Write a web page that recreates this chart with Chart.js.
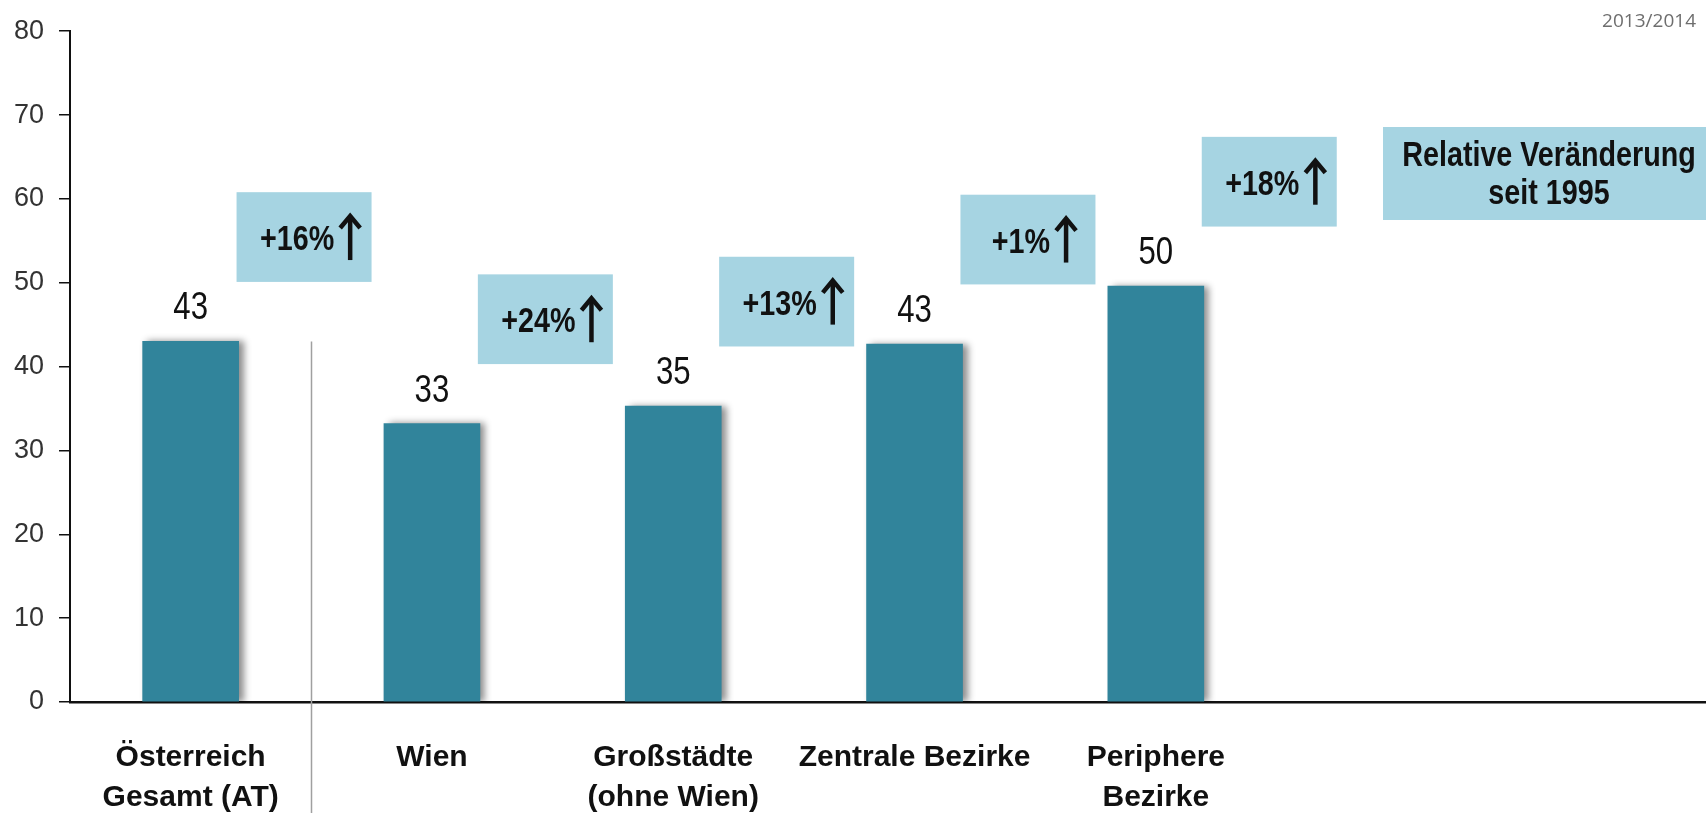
<!DOCTYPE html>
<html><head><meta charset="utf-8">
<script src="https://cdn.jsdelivr.net/npm/chart.js@4.4.1/dist/chart.umd.min.js"></script>
<style>html,body{margin:0;padding:0;background:#fff;overflow:hidden}canvas{display:block}</style>
</head><body>
<canvas id="c" width="1706" height="813"></canvas>
<script>
const categories = [['Österreich','Gesamt (AT)'], ['Wien'], ['Großstädte','(ohne Wien)'], ['Zentrale Bezirke'], ['Periphere','Bezirke']];
const values = [43.0, 33.2, 35.3, 42.7, 49.6];
const valueLabels = ['43', '33', '35', '43', '50'];
const changeLabels = ['+16%', '+24%', '+13%', '+1%', '+18%'];
const yTicks = [0, 10, 20, 30, 40, 50, 60, 70, 80];
const legendLines = ['Relative Veränderung', 'seit 1995'];
const sourceNote = '2013/2014';

const SANS = "'Liberation Sans','Arimo',Arial,sans-serif";
const BAR = '#31849b';
const BOX = '#a6d4e2';
const NARROW_SCALE = 0.82;

function narrowText(ctx, text, x, y, align, font) {
  ctx.save();
  ctx.font = font;
  ctx.textAlign = align;
  ctx.textBaseline = 'alphabetic';
  ctx.translate(x, y);
  ctx.scale(NARROW_SCALE, 1);
  ctx.fillText(text, 0, 0);
  ctx.restore();
}
function narrowWidth(ctx, text, font) {
  ctx.save(); ctx.font = font; const w = ctx.measureText(text).width * NARROW_SCALE; ctx.restore(); return w;
}

const annot = {
  id: 'annot',
  beforeDatasetDraw(chart) {
    const c = chart.ctx; c.save();
    c.shadowColor = 'rgba(0,0,0,0.45)'; c.shadowBlur = 7; c.shadowOffsetX = 5; c.shadowOffsetY = 0;
  },
  afterDatasetDraw(chart) { chart.ctx.restore(); },
  afterDraw(chart) {
    const ctx = chart.ctx, xs = chart.scales.x, ys = chart.scales.y, meta = chart.getDatasetMeta(0);
    const ca = chart.chartArea;
    ctx.save();
    // separator line
    ctx.strokeStyle = '#a0a0a0'; ctx.lineWidth = 1.5;
    const sx = Math.round(xs.getPixelForValue(0.5)) + 0.5;
    ctx.beginPath(); ctx.moveTo(sx, ys.getPixelForValue(values[0])); ctx.lineTo(sx, chart.height); ctx.stroke();
    // value labels
    ctx.fillStyle = '#111';
    meta.data.forEach((bar, i) => { narrowText(ctx, valueLabels[i], bar.x, bar.y - 22, 'center', '38px ' + SANS); });
    // change boxes
    changeLabels.forEach((lab, i) => {
      const cx = xs.getPixelForValue(i + 0.47);
      const left = cx - 67.5;
      const top = ys.getPixelForValue(values[i] + 7.1 + 10.7), bottom = ys.getPixelForValue(values[i] + 7.1);
      ctx.fillStyle = BOX; ctx.fillRect(left, top, 135, bottom - top);
      const mid = (top + bottom) / 2;
      const f = 'bold 35px ' + SANS;
      const w = narrowWidth(ctx, lab, f);
      const gw = w + 4 + 22; const gx = cx + 6 - gw / 2;
      ctx.fillStyle = '#111';
      narrowText(ctx, lab, gx, mid + 13, 'left', f);
      const ax = gx + w + 5 + 11;
      ctx.strokeStyle = '#111'; ctx.lineWidth = 4.5; ctx.lineJoin = 'miter';
      ctx.beginPath(); ctx.moveTo(ax, mid + 23); ctx.lineTo(ax, mid - 19); ctx.stroke();
      ctx.beginPath(); ctx.moveTo(ax - 10, mid - 9); ctx.lineTo(ax, mid - 21); ctx.lineTo(ax + 10, mid - 9); ctx.stroke();
    });
    // legend box
    const lx = ca.right - 323, ltop = 127, lh = 93;
    ctx.fillStyle = BOX; ctx.fillRect(lx, ltop, chart.width - lx + 10, lh);
    ctx.fillStyle = '#111';
    const lcx = ca.right - 157;
    narrowText(ctx, legendLines[0], lcx, 166, 'center', 'bold 35px ' + SANS);
    narrowText(ctx, legendLines[1], lcx, 204, 'center', 'bold 35px ' + SANS);
    // source note
    ctx.fillStyle = '#6e6e6e'; ctx.font = "19px 'Open Sans','DejaVu Sans',sans-serif"; ctx.textAlign = 'right';
    ctx.fillText(sourceNote, chart.width - 10, 27);
    ctx.restore();
  }
};

new Chart(document.getElementById('c'), {
  type: 'bar',
  data: {
    datasets: [{
      data: values.map((v, i) => ({ x: i, y: v })),
      backgroundColor: BAR,
      barThickness: 96,
      borderWidth: 0
    }]
  },
  options: {
    responsive: false,
    animation: false,
    devicePixelRatio: 1,
    layout: { padding: { top: 24, right: 0, left: 0, bottom: 0 } },
    plugins: { legend: { display: false }, tooltip: { enabled: false } },
    scales: {
      x: {
        type: 'linear',
        offset: false,
        min: -0.5, max: 6.28,
        afterFit(s) { s.height = 111; },
        afterBuildTicks(s) { s.ticks = categories.map((c, i) => ({ value: i })); },
        grid: { display: false, offset: false },
        border: { display: true, color: '#111', width: 2.5 },
        ticks: {
          autoSkip: false, maxRotation: 0, minRotation: 0, padding: 28,
          color: '#111',
          font: { family: SANS, size: 30, weight: 'bold', lineHeight: 40 / 30 },
          callback: (v) => categories[v] || ''
        }
      },
      y: {
        min: 0, max: 80,
        afterFit(s) { s.width = 70; },
        afterBuildTicks(s) { s.ticks = yTicks.map(v => ({ value: v })); },
        grid: { display: true, drawOnChartArea: false, drawTicks: true, tickLength: 11, color: '#111', lineWidth: 1.5 },
        border: { display: true, color: '#111', width: 2 },
        ticks: {
          padding: 15, color: '#333',
          font: { family: SANS, size: 27 }
        }
      }
    }
  },
  plugins: [annot]
});
</script>
</body></html>
